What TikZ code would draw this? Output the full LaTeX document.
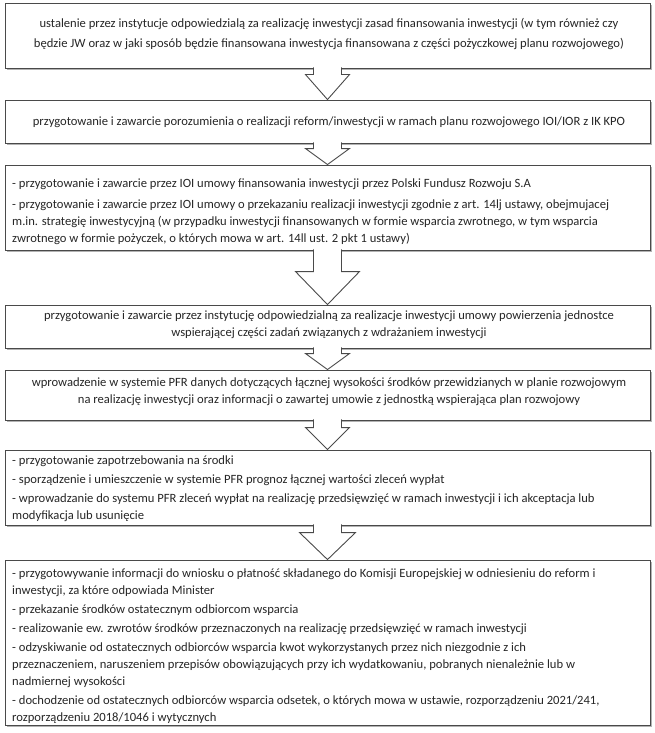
\documentclass[tikz,border=0pt]{standalone}
\usepackage{fontspec}
\setmainfont{Carlito}
\usetikzlibrary{calc,shadows}
\definecolor{edge}{HTML}{4A4A4A}
\definecolor{txt}{HTML}{262626}
\tikzset{
 stepbox/.style={draw=edge, line width=0.9pt, fill=white, minimum width=645pt, inner sep=0pt,
   drop shadow={shadow xshift=1.8pt, shadow yshift=-1.8pt, opacity=0.55, fill=black!55}},
 boxtext/.style={text=txt, font=\fontsize{12.6}{17}\selectfont, inner sep=0pt},
 bigarrow/.style={draw=edge, line width=0.9pt, fill=white, line join=miter},
}
\newcommand{\blockarrow}[5]{%
  \draw[bigarrow] let \p1=(#1.south), \p2=(#2.north) in
   (\x1-#3pt,\y1+1pt) -- (\x1-#3pt,\y2+#5pt) -- (\x1-#4pt,\y2+#5pt) -- (\x1,\y2)
   -- (\x1+#4pt,\y2+#5pt) -- (\x1+#3pt,\y2+#5pt) -- (\x1+#3pt,\y1+1pt);}
\begin{document}
\begin{tikzpicture}[x=1pt,y=-1pt]
\useasboundingbox[fill=white] (0,0) rectangle (655,733);
% boxes
\node[stepbox, minimum height=65pt]  (b1) at (327.5,35.5) {};
\node[stepbox, minimum height=43pt]  (b2) at (327.5,121.5) {};
\node[stepbox, minimum height=85pt]  (b3) at (327.5,207.5) {};
\node[stepbox, minimum height=43pt]  (b4) at (327.5,326.5) {};
\node[stepbox, minimum height=50pt]  (b5) at (327.5,395) {};
\node[stepbox, minimum height=75pt]  (b6) at (327.5,487.5) {};
\node[stepbox, minimum height=165pt] (b7) at (327.5,642.5) {};
% arrows
\blockarrow{b1}{b2}{14}{22}{25}
\blockarrow{b2}{b3}{14}{22}{16}
\blockarrow{b3}{b4}{14}{32}{33}
\blockarrow{b4}{b5}{14}{22}{16}
\blockarrow{b5}{b6}{14}{22}{22}
\blockarrow{b6}{b7}{14}{28}{27}
% texts
\node[boxtext, align=center] (t1) at (329,33.5) {ustalenie przez instytucje odpowiedzialą  za realizację inwestycji zasad finansowania  inwestycji  (w tym również czy\\[3pt]będzie JW oraz w jaki sposób  będzie finansowana  inwestycja finansowana  z części pożyczkowej planu  rozwojowego)};
\node[boxtext, align=center] (t2) at (329,122) {przygotowanie  i zawarcie porozumienia  o realizacji reform/inwestycji  w ramach planu  rozwojowego IOI/IOR z IK KPO};
\node[boxtext, align=left, anchor=west] (t3) at (12,212) {- przygotowanie  i zawarcie przez IOI umowy finansowania  inwestycji przez Polski  Fundusz  Rozwoju S.A\\[4pt]- przygotowanie  i zawarcie przez IOI umowy o przekazaniu realizacji inwestycji  zgodnie z art. 14lj ustawy, obejmujacej\\m.in.  strategię inwestycyjną  (w przypadku inwestycji  finansowanych  w formie  wsparcia zwrotnego, w tym wsparcia\\zwrotnego w formie pożyczek, o których mowa w art. 14ll ust. 2 pkt 1 ustawy)};
\node[boxtext, align=center] (t4) at (329,325) {przygotowanie  i zawarcie przez instytucję  odpowiedzialną  za realizacje inwestycji  umowy powierzenia jednostce\\wspierającej części zadań związanych z wdrażaniem inwestycji};
\node[boxtext, align=center] (t5) at (329,392) {wprowadzenie w systemie  PFR danych dotyczących łącznej wysokości  środków  przewidzianych w planie rozwojowym\\na realizację inwestycji  oraz informacji  o zawartej umowie  z jednostką  wspierająca plan rozwojowy};
\node[boxtext, align=left, anchor=west] (t6) at (12,488.5) {- przygotowanie zapotrzebowania na środki\\[2pt]- sporządzenie  i  umieszczenie  w systemie  PFR prognoz łącznej wartości zleceń wypłat\\[2pt]- wprowadzanie do systemu  PFR zleceń wypłat na realizację przedsięwzięć w ramach inwestycji  i ich akceptacja lub\\modyfikacja  lub usunięcie};
\node[boxtext, align=left, anchor=west] (t7) at (12,646.5) {- przygotowywanie informacji do wniosku o płatność składanego do Komisji  Europejskiej  w odniesieniu  do reform i\\inwestycji, za które odpowiada  Minister\\[2pt]- przekazanie środków  ostatecznym  odbiorcom  wsparcia\\[2pt]- realizowanie  ew. zwrotów środków  przeznaczonych na realizację przedsięwzięć w ramach inwestycji\\[2pt]- odzyskiwanie  od ostatecznych odbiorców  wsparcia kwot wykorzystanych przez nich niezgodnie z ich\\przeznaczeniem, naruszeniem przepisów  obowiązujących przy ich wydatkowaniu,  pobranych  nienależnie lub w\\nadmiernej wysokości\\[2pt]- dochodzenie  od ostatecznych odbiorców  wsparcia odsetek,  o których mowa w ustawie,  rozporządzeniu  2021/241,\\rozporządzeniu  2018/1046 i wytycznych};
\end{tikzpicture}
\end{document}
